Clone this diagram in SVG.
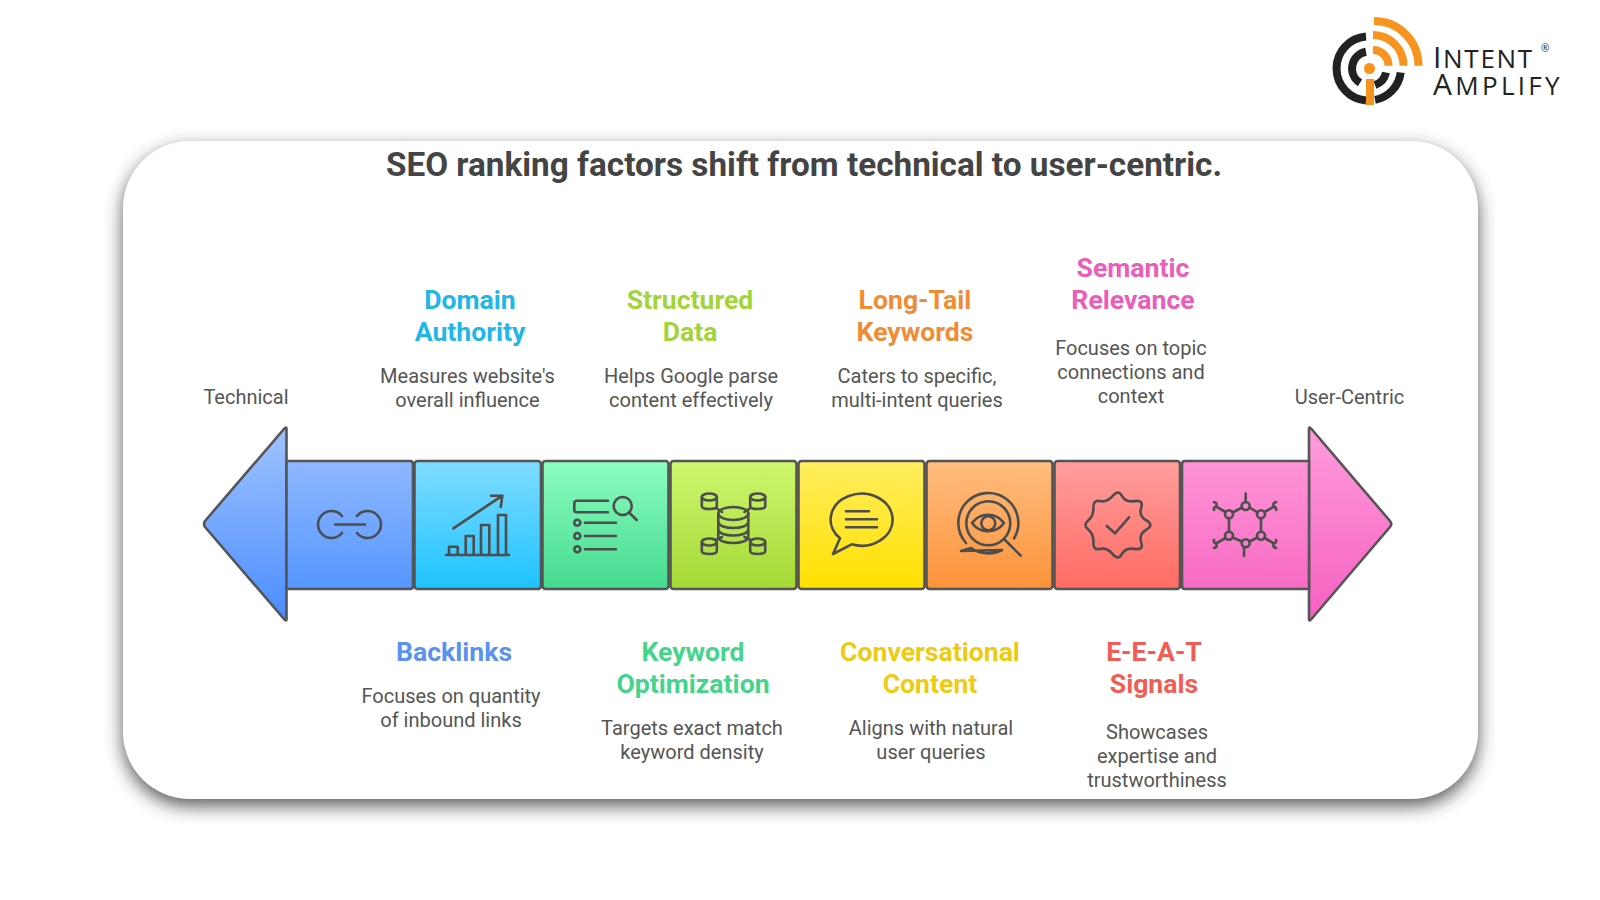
<svg xmlns="http://www.w3.org/2000/svg" width="1600" height="900" viewBox="0 0 1600 900">
<style>
text{font-family:Roboto,"Liberation Sans",sans-serif;text-anchor:middle}
.t{font-size:26.600px;font-weight:700}
.d{font-size:20px;fill:#555}
.seg{stroke:#555;stroke-width:2.6}
.ic{fill:none;stroke:#4d4d4d;stroke-width:2.6;stroke-linecap:round;stroke-linejoin:round}
.k{fill:none;stroke:#222;stroke-width:8}
.o{fill:none;stroke:#f7931e;stroke-width:8}
.lg{font-family:"Open Sans",Lato,sans-serif;text-anchor:start;fill:#222;font-weight:400;font-size:26px}
.cap{font-size:30px}
</style>
<defs>
<filter id="sh" x="-10%" y="-15%" width="120%" height="135%"><feGaussianBlur stdDeviation="9"/></filter>
<linearGradient id="g0" x1="0" y1="0" x2="0" y2="1"><stop offset="0" stop-color="#a0c3ff"/><stop offset="1" stop-color="#4a8dff"/></linearGradient>
<linearGradient id="g1" x1="0" y1="0" x2="0" y2="1"><stop offset="0" stop-color="#8fb8ff"/><stop offset="1" stop-color="#5596ff"/></linearGradient>
<linearGradient id="g2" x1="0" y1="0" x2="0" y2="1"><stop offset="0" stop-color="#80dcff"/><stop offset="1" stop-color="#1ec3ff"/></linearGradient>
<linearGradient id="g3" x1="0" y1="0" x2="0" y2="1"><stop offset="0" stop-color="#8cfdc0"/><stop offset="1" stop-color="#45da8e"/></linearGradient>
<linearGradient id="g4" x1="0" y1="0" x2="0" y2="1"><stop offset="0" stop-color="#cdf76f"/><stop offset="1" stop-color="#a3d935"/></linearGradient>
<linearGradient id="g5" x1="0" y1="0" x2="0" y2="1"><stop offset="0" stop-color="#ffee5f"/><stop offset="1" stop-color="#ffe000"/></linearGradient>
<linearGradient id="g6" x1="0" y1="0" x2="0" y2="1"><stop offset="0" stop-color="#ffbd7e"/><stop offset="1" stop-color="#fb923a"/></linearGradient>
<linearGradient id="g7" x1="0" y1="0" x2="0" y2="1"><stop offset="0" stop-color="#ff9e9e"/><stop offset="1" stop-color="#ff6b63"/></linearGradient>
<linearGradient id="g8" x1="0" y1="0" x2="0" y2="1"><stop offset="0" stop-color="#ff94d6"/><stop offset="1" stop-color="#f76bc5"/></linearGradient>
<linearGradient id="g9" x1="0" y1="0" x2="0" y2="1"><stop offset="0" stop-color="#ff9cdd"/><stop offset="1" stop-color="#f560c0"/></linearGradient>
</defs>
<rect width="1600" height="900" fill="#fff"/>

<g id="panel">
<rect x="123" y="148" width="1355" height="658" rx="67" fill="#333" opacity=".8" filter="url(#sh)"/>
<rect x="123" y="141" width="1355" height="658" rx="67" fill="#fff"/>
</g>

<g id="logo">
<path class="k" d="M1366 36.600A32 32 0 0 0 1366 100.400"/>
<path class="k" d="M1375 99.900A32 32 0 0 0 1400.700 72.500"/>
<path class="k" d="M1366 51.800A17 17 0 0 0 1360 82.900"/>
<path class="k" d="M1375 85A17 17 0 0 0 1386 72.500"/>
<path class="o" d="M1374 21A44.500 44.500 0 0 1 1418.500 65.700"/>
<path class="o" d="M1373 35A30.500 30.500 0 0 1 1403.500 65.700"/>
<path class="o" d="M1373 50A15.500 15.500 0 0 1 1388.500 65.700"/>
<circle cx="1369.500" cy="68.500" r="5.500" fill="#f7931e"/>
<rect x="1366" y="79" width="8" height="26" fill="#f7931e"/>
<text class="lg"><tspan x="1433" y="68" letter-spacing="1.700"><tspan class="cap">I</tspan>NTENT</tspan><tspan x="1433" y="95" letter-spacing="3.300"><tspan class="cap">A</tspan>MPLIFY</tspan></text>
<text class="lg" x="1541" y="52" style="font-size:10px">®</text>
</g>

<text id="title" x="804" y="176" font-size="33.300" font-weight="700" fill="#444">SEO ranking factors shift from technical to user-centric.</text>

<g id="arrow-left"><path class="seg" fill="url(#g0)" stroke-linejoin="round" d="M286.500 429Q286.500 426 284 429L205 521Q203 524 205 527L284 619Q286.500 622 286.500 619Z"/></g>
<g id="arrow-right"><path class="seg" fill="url(#g9)" stroke-linejoin="round" d="M1309 429Q1309 426 1311.500 429L1390 521Q1392.500 524 1390 527L1311.500 619Q1309 622 1309 619Z"/></g>

<g id="backlinks">
<path class="seg" fill="url(#g1)" d="M286.500 461H410Q413 461 413 464V586Q413 589 410 589H286.500Z"/>
<path class="ic" d="M342 516A13.500 13.500 0 1 0 342 533M357 516A13.500 13.500 0 1 1 357 533M335 524.500H365"/>
<text class="t" x="454" y="661" fill="#5a92f0">Backlinks</text>
<text class="d" x="451" y="703">Focuses on quantity</text><text class="d" x="451" y="727">of inbound links</text>
</g>
<g id="domain-authority">
<rect class="seg" x="414.500" y="461" width="126.500" height="128" rx="3" fill="url(#g2)"/>
<path class="ic" d="M446 555H509M449 555V546.700H457.700V555M465.700 555V536H473.700V555M481 555V525H489.300V555M498 555V515H506V555M453.300 528.300L502.300 495.700M491 495.700H502.300L500.700 507"/>
<text class="t" x="470" y="309" fill="#1fb6e8">Domain</text><text class="t" x="470" y="341" fill="#1fb6e8">Authority</text>
<text class="d" x="467.500" y="383">Measures website's</text><text class="d" x="467.500" y="407">overall influence</text>
</g>
<g id="structured-data-list">
<rect class="seg" x="542.500" y="461" width="126" height="128" rx="3" fill="url(#g3)"/>
<path class="ic" d="M608 500.700H577Q574.300 500.700 574.300 503V510Q574.300 512.300 577 512.300H608M636.700 520L629 512.500"/>
<circle class="ic" cx="622.700" cy="506" r="9"/>
<circle class="ic" cx="577.300" cy="522.700" r="3"/><circle class="ic" cx="577.300" cy="536" r="3"/><circle class="ic" cx="577.300" cy="549.300" r="3"/>
<path class="ic" d="M585 522.700H616M585 536H616M585 549.300H616"/>
</g>
<g id="structured-data-db">
<rect class="seg" x="670.500" y="461" width="126" height="128" rx="3" fill="url(#g4)"/>
<g class="ic">
<ellipse cx="733.300" cy="513.500" rx="15" ry="6.500"/>
<path d="M718.300 513.500V536.500C718.300 541 726 543 733.300 543S748.300 541 748.300 536.500V513.500M718.300 521.500C718.300 526 726 528 733.300 528S748.300 526 748.300 521.500M718.300 529C718.300 533.500 726 535.500 733.300 535.500S748.300 533.500 748.300 529"/>
<ellipse cx="709.300" cy="497" rx="7.500" ry="3.500"/><path d="M701.800 497V506C701.800 510 716.800 510 716.800 506V497"/>
<ellipse cx="757.700" cy="497" rx="7.500" ry="3.500"/><path d="M750.200 497V506C750.200 510 765.200 510 765.200 506V497"/>
<ellipse cx="709.300" cy="542" rx="7.500" ry="3.500"/><path d="M701.800 542V551C701.800 555 716.800 555 716.800 551V542"/>
<ellipse cx="757.700" cy="542" rx="7.500" ry="3.500"/><path d="M750.200 542V551C750.200 555 765.200 555 765.200 551V542"/>
<path d="M716 508L722 512M750.500 508L744.500 512M716 540L722 537M750.500 540L744.500 537"/>
</g>
</g>
<g id="keyword-optimization">
<text class="t" x="693" y="661" fill="#45d48c">Keyword</text><text class="t" x="693" y="693" fill="#45d48c">Optimization</text>
<text class="d" x="692" y="735">Targets exact match</text><text class="d" x="692" y="759">keyword density</text>
</g>
<g id="structured-data">
<text class="t" x="690" y="309" fill="#a3d43a">Structured</text><text class="t" x="690" y="341" fill="#a3d43a">Data</text>
<text class="d" x="691" y="383">Helps Google parse</text><text class="d" x="691" y="407">content effectively</text>
</g>
<g id="conversational-content">
<rect class="seg" x="798.500" y="461" width="126" height="128" rx="3" fill="url(#g5)"/>
<path class="ic" d="M840 538.300L833 554L851.700 544.300A31 26 0 1 0 840 538.300Z"/>
<path class="ic" d="M846 511.300H869M846 519.300H877M846 527.300H877"/>
<text class="t" x="930" y="661" fill="#eecb12">Conversational</text><text class="t" x="930" y="693" fill="#eecb12">Content</text>
<text class="d" x="931" y="735">Aligns with natural</text><text class="d" x="931" y="759">user queries</text>
</g>
<g id="long-tail-keywords">
<rect class="seg" x="926.500" y="461" width="126" height="128" rx="3" fill="url(#g6)"/>
<path class="ic" d="M966 543A30 30 0 1 1 1014 538.500M1002 550A30 30 0 0 1 971 548L961 551Z"/>
<circle class="ic" cx="988.300" cy="523.300" r="22"/>
<path class="ic" d="M972 523C980 512 996 512 1004 523C996 534 980 534 972 523Z"/>
<circle class="ic" cx="988.300" cy="523.300" r="7"/>
<path class="ic" d="M1005 540L1020.700 555.700"/>
<text class="t" x="915" y="309" fill="#f08c35">Long-Tail</text><text class="t" x="915" y="341" fill="#f08c35">Keywords</text>
<text class="d" x="917" y="383">Caters to specific,</text><text class="d" x="917" y="407">multi-intent queries</text>
</g>
<g id="e-e-a-t-signals">
<rect class="seg" x="1054.500" y="461" width="125.500" height="128" rx="3" fill="url(#g7)"/>
<path class="ic" transform="translate(1117.300 525)" d="M29.100 -4.600Q37 0 29.100 4.600T23.900 17.300T17.300 23.900T4.600 29.100T-4.600 29.100T-17.300 23.900T-23.900 17.300T-29.100 4.600T-29.100 -4.600T-23.900 -17.300T-17.300 -23.900T-4.600 -29.100T4.600 -29.100T17.300 -23.900T23.900 -17.300T29.100 -4.600Z"/>
<path class="ic" d="M1106.700 526L1115 533.300L1129 517.300"/>
<text class="t" x="1154" y="661" fill="#f25c54">E-E-A-T</text><text class="t" x="1154" y="693" fill="#f25c54">Signals</text>
<text class="d" x="1157" y="739">Showcases</text><text class="d" x="1157" y="763">expertise and</text><text class="d" x="1157" y="787">trustworthiness</text>
</g>
<g id="semantic-relevance">
<path class="seg" fill="url(#g8)" d="M1309 461H1185Q1182 461 1182 464V586Q1182 589 1185 589H1309Z"/>
<g class="ic">
<circle cx="1245.700" cy="506" r="4"/><circle cx="1229" cy="514.300" r="4"/><circle cx="1261" cy="514.300" r="4"/><circle cx="1229" cy="535.700" r="4"/><circle cx="1261" cy="535.700" r="4"/><circle cx="1245.700" cy="543.300" r="4"/>
<path d="M1245.700 493.500V502M1244 547V556M1232.500 512.500L1242 507.500M1249.500 507.500L1257.500 512.500M1229 518.500V531.500M1261 518.500V531.500M1232.500 537.500L1242 541.500M1249.500 541.500L1257.500 537.500"/>
<path d="M1225.500 512L1216 506.500M1216 506.500Q1218 503 1214 502M1216 506.500Q1213 508 1214 510M1264.500 512L1274 506.500M1274 506.500Q1272 503 1276 502M1274 506.500Q1277 508 1276 510M1225.500 538L1216 543.500M1216 543.500Q1218 547 1214 548M1216 543.500Q1213 542 1214 540M1264.500 538L1274 543.500M1274 543.500Q1272 547 1276 548M1274 543.500Q1277 542 1276 540"/>
</g>
<text class="t" x="1133" y="277" fill="#ec5cb8">Semantic</text><text class="t" x="1133" y="309" fill="#ec5cb8">Relevance</text>
<text class="d" x="1131" y="355">Focuses on topic</text><text class="d" x="1131" y="379">connections and</text><text class="d" x="1131" y="403">context</text>
</g>
<text class="d" x="246" y="404">Technical</text>
<text class="d" x="1349.500" y="404">User-Centric</text>
<g id="connectors"></g>
</svg>
